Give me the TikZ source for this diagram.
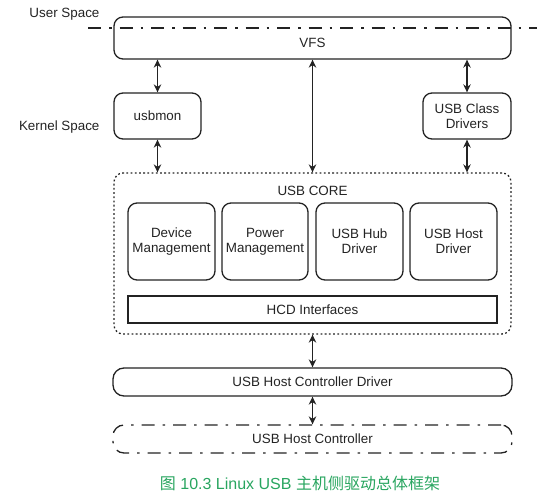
\documentclass[tikz,border=0pt]{standalone}
\usepackage{fontspec}
\setmainfont{Liberation Sans}
\newfontfamily\cjk{Noto Sans CJK SC}
\usetikzlibrary{arrows.meta}
\definecolor{capgreen}{RGB}{40,165,95}
\definecolor{ink}{RGB}{35,35,35}
\begin{document}
\begin{tikzpicture}[x=1pt,y=-1pt,
  lbl/.style={font=\fontsize{13.4}{15}\selectfont,text=ink},
  box/.style={draw=ink,rounded corners=9pt,line width=1.3pt,inner sep=0pt,align=center,font=\fontsize{13.4}{15}\selectfont,text=ink},
  dotbox/.style={box,dash pattern=on 1.8pt off 2.4pt,line width=1.3pt},
  dashdot/.style={dash pattern=on 13pt off 8pt on 2.5pt off 8pt},
  dbl/.style={draw=ink,line width=1.3pt,{Stealth[length=8pt,width=7.5pt]}-{Stealth[length=8pt,width=7.5pt]}}
]
\useasboundingbox (0,0) rectangle (560,500);
% top level
\node[box,minimum width=397pt,minimum height=42pt,text height=20pt,text depth=0pt] (vfs) at (312.5,38) {VFS};
\coordinate (ul) at (88,28);
\coordinate (ur) at (537,28);
\draw[ink,line width=1.3pt,dashdot] (ul) -- (ur);
\node[lbl,anchor=east] (user) at (103,14) {User Space};
\node[lbl,anchor=east] (kernel) at (103,127) {Kernel Space};
\node[box,minimum width=87pt,minimum height=46pt] (usbmon) at (157.5,116) {usbmon};
\node[box,minimum width=88pt,minimum height=46pt] (class) at (467,116) {USB Class\\Drivers};
% core
\node[dotbox,minimum width=397pt,minimum height=161pt] (core) at (312.5,253.5) {};
\node[lbl] (coretitle) at (312.5,191) {USB CORE};
\node[box,minimum width=87pt,minimum height=77pt] (dm) at (171.5,241.5) {Device\\Management};
\node[box,minimum width=86pt,minimum height=77pt] (pm) at (265,241.5) {Power\\Management};
\node[box,minimum width=87pt,minimum height=77pt] (hub) at (359.5,241.5) {USB Hub\\Driver};
\node[box,minimum width=87pt,minimum height=77pt] (hostdrv) at (453.5,241.5) {USB Host\\Driver};
\node[box,rounded corners=0pt,line width=1.2pt,minimum width=369pt,minimum height=27pt] (hcdi) at (312.5,309.5) {HCD Interfaces};
% lower
\node[box,rounded corners=11pt,minimum width=399pt,minimum height=28pt] (hcd) at (312.5,382) {USB Host Controller Driver};
\node[box,rounded corners=11pt,minimum width=399pt,minimum height=28pt,dashdot] (hc) at (312.5,439) {USB Host Controller};
% arrows
\draw[dbl] (usbmon.north) -- (usbmon.north |- vfs.south);
\draw[dbl] (usbmon.south) -- (usbmon.south |- core.north);
\draw[dbl] (vfs.south) -- (core.north);
\draw[dbl] (class.north) -- (class.north |- vfs.south);
\draw[dbl] (class.south) -- (class.south |- core.north);
\draw[dbl] (core.south) -- (hcd.north);
\draw[dbl] (hcd.south) -- (hc.north);
% caption
\node[font=\fontsize{16}{18}\selectfont,text=capgreen] (caption) at (300,483) {{\cjk 图} 10.3 Linux USB {\cjk 主机侧驱动总体框架}};
\end{tikzpicture}
\end{document}
